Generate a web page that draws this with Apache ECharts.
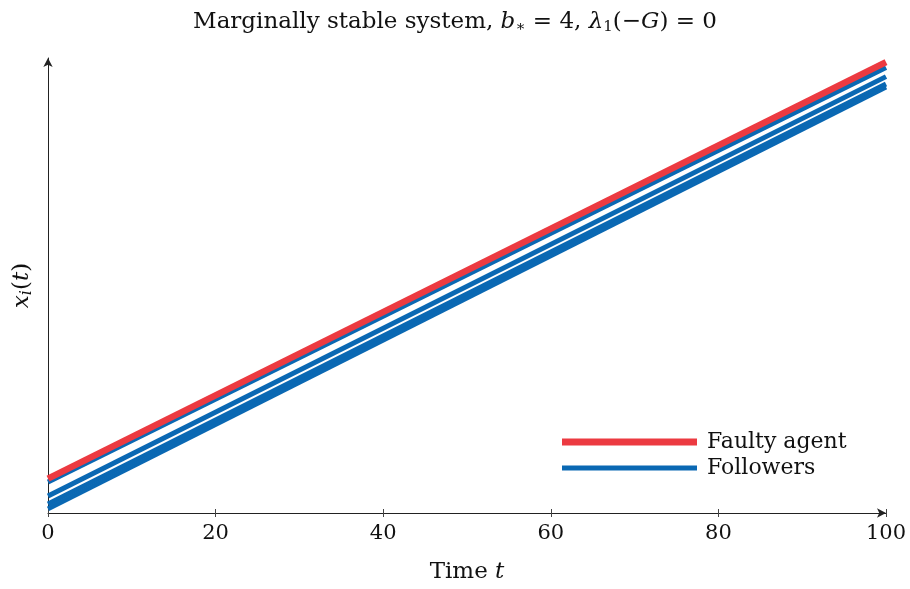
<!DOCTYPE html>
<html>
<head>
<meta charset="utf-8">
<script src="https://cdn.jsdelivr.net/npm/echarts@6/dist/echarts.min.js"></script>
<style>
  html, body { margin: 0; padding: 0; background: #fff; }
  #chart { width: 910px; height: 589px; }
</style>
</head>
<body>
<div id="chart"></div>
<script>
// Trajectories x_i(t): straight lines given by their values at t = 0 and t = 100
const timePoints = [0, 100];
const faultyAgent = [8.3, 109.0];
const followerA = [7.5, 107.7];
const followerB = [4.1, 105.5];
const followerC = [2.2, 103.7];
const followerD = [1.0, 103.0];
const followers = [followerA, followerB, followerC, followerD];
const xTicks = [0, 20, 40, 60, 80, 100];

const RED = '#EC3A41';
const BLUE = '#0A68B3';
const FONT = '"DejaVu Serif", "Liberation Serif", serif';
const INK = '#111';

const toPairs = vals => timePoints.map((t, i) => [t, vals[i]]);

const followerSeries = followers.map(vals => ({
  name: 'Followers',
  type: 'line',
  data: toPairs(vals),
  showSymbol: false,
  lineStyle: { color: BLUE, width: 5 },
  itemStyle: { color: BLUE },
  z: 2,
  animation: false
}));

const chart = echarts.init(document.getElementById('chart'), null, { renderer: 'canvas' });

chart.setOption({
  backgroundColor: '#fff',
  animation: false,
  title: {
    left: 'center',
    top: 4,
    text: '{r|Marginally stable system, }{i|b}{s|∗}{r| = 4, }{i|λ}{s|1}{r|(−}{i|G}{r|) = 0}',
    textStyle: {
      fontWeight: 'normal',
      rich: {
        r: { fontFamily: FONT, fontSize: 23, fontWeight: 'normal', color: INK },
        i: { fontFamily: FONT, fontSize: 23, fontWeight: 'normal', fontStyle: 'italic', color: INK },
        s: { fontFamily: FONT, fontSize: 15, fontWeight: 'normal', color: INK, padding: [11, 0, 0, 0] }
      }
    }
  },
  grid: { left: 48, right: 24, top: 58, bottom: 76, containLabel: false, outerBoundsMode: 'none' },
  legend: [
    {
      data: ['Faulty agent'],
      left: 562, top: 431,
      padding: 0,
      itemWidth: 135, itemHeight: 7, itemGap: 10,
      icon: 'rect',
      itemStyle: { color: RED },
      textStyle: { fontFamily: FONT, fontSize: 22, color: INK, padding: [0, 0, 0, 5] }
    },
    {
      data: ['Followers'],
      left: 562, top: 457,
      padding: 0,
      itemWidth: 135, itemHeight: 5, itemGap: 10,
      icon: 'rect',
      itemStyle: { color: BLUE },
      textStyle: { fontFamily: FONT, fontSize: 22, color: INK, padding: [0, 0, 0, 5] }
    }
  ],
  xAxis: [
    {
      type: 'value',
      min: 0, max: 100, interval: 20,
      name: '{r|Time }{i|t}',
      nameLocation: 'middle',
      nameGap: 48,
      nameTextStyle: {
        rich: {
          r: { fontFamily: FONT, fontSize: 23, color: INK },
          i: { fontFamily: FONT, fontSize: 23, fontStyle: 'italic', color: INK }
        }
      },
      axisLine: { show: true, lineStyle: { color: '#222', width: 1 }, symbol: ['none', 'arrow'], symbolSize: [7, 9] },
      axisTick: { show: true, inside: false, length: 4, lineStyle: { color: '#444' } },
      axisLabel: {
        fontFamily: FONT, fontSize: 21, color: INK, margin: 10,
        formatter: v => xTicks.includes(v) ? String(v) : ''
      },
      splitLine: { show: false }
    },
    {
      type: 'value',
      min: 0, max: 100, interval: 20,
      position: 'bottom',
      axisLine: { show: false },
      axisTick: { show: true, inside: true, length: 4, lineStyle: { color: '#444' } },
      axisLabel: { show: false },
      splitLine: { show: false }
    }
  ],
  yAxis: {
    type: 'value',
    min: 0, max: 110,
    name: '{i|x}{s|i}{r|(}{i|t}{r|)}',
    nameLocation: 'middle',
    nameRotate: 90,
    nameGap: 13,
    nameTextStyle: {
      rich: {
        r: { fontFamily: FONT, fontSize: 23, color: INK },
        i: { fontFamily: FONT, fontSize: 23, fontStyle: 'italic', color: INK },
        s: { fontFamily: FONT, fontSize: 16, fontStyle: 'italic', color: INK, padding: [9, 0, 0, 0] }
      }
    },
    axisLine: { show: true, lineStyle: { color: '#222', width: 1 }, symbol: ['none', 'arrow'], symbolSize: [7, 9] },
    axisTick: { show: false },
    axisLabel: { show: false },
    splitLine: { show: false }
  },
  series: [
    ...followerSeries,
    {
      name: 'Faulty agent',
      type: 'line',
      data: toPairs(faultyAgent),
      showSymbol: false,
      lineStyle: { color: RED, width: 6.5 },
      itemStyle: { color: RED },
      z: 3,
      animation: false
    }
  ]
});
</script>
</body>
</html>
